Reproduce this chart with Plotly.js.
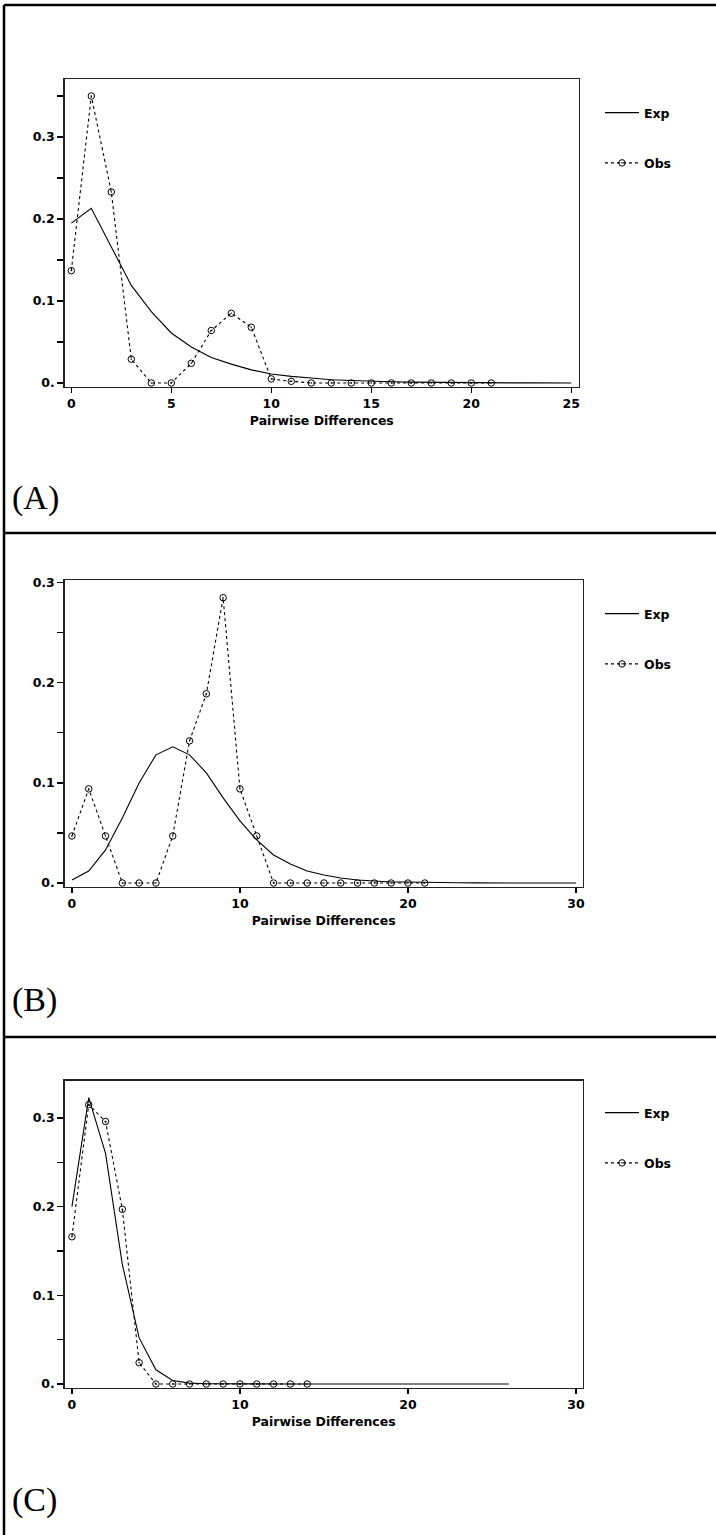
<!DOCTYPE html>
<html><head><meta charset="utf-8">
<script src="https://cdn.plot.ly/plotly-3.0.1.min.js"></script>
<style>html,body{margin:0;padding:0;background:#fff}#chart{width:716px;height:1535px}</style>
</head><body><div id="chart"></div>
<script>
// ---------- data ----------
const expXA = [0,1,2,3,4,5,6,7,8,9,10,11,12,13,14,15,16,17,18,19,20,21,22,23,24,25];
const expA  = [0.195,0.213,0.166,0.119,0.087,0.061,0.044,0.031,0.023,0.016,0.011,0.008,0.006,0.004,0.003,0.002,0.0015,0.001,0.0007,0.0005,0.0003,0.0002,0.0001,0.0001,0,0];
const obsXA = [0,1,2,3,4,5,6,7,8,9,10,11,12,13,14,15,16,17,18,19,20,21];
const obsA  = [0.137,0.350,0.233,0.029,0,0,0.024,0.064,0.085,0.068,0.005,0.002,0,0,0,0,0,0,0,0,0,0];

const expXB = [0,1,2,3,4,5,6,7,8,9,10,11,12,13,14,15,16,17,18,19,20,21,22,23,24,25,26,27,28,29,30];
const expB  = [0.003,0.012,0.033,0.065,0.100,0.128,0.136,0.128,0.110,0.085,0.062,0.043,0.028,0.019,0.012,0.008,0.005,0.003,0.002,0.001,0.001,0.0005,0.0003,0.0002,0.0001,0,0,0,0,0,0];
const obsXB = [0,1,2,3,4,5,6,7,8,9,10,11,12,13,14,15,16,17,18,19,20,21];
const obsB  = [0.047,0.094,0.047,0,0,0,0.047,0.142,0.189,0.285,0.094,0.047,0,0,0,0,0,0,0,0,0,0];

const expXC = [0,1,2,3,4,5,6,7,8,9,10,11,12,13,14,15,16,17,18,19,20,21,22,23,24,25,26];
const expC  = [0.200,0.323,0.260,0.135,0.052,0.016,0.004,0.001,0.0003,0.0001,0,0,0,0,0,0,0,0,0,0,0,0,0,0,0,0,0];
const obsXC = [0,1,2,3,4,5,6,7,8,9,10,11,12,13,14];
const obsC  = [0.166,0.315,0.296,0.197,0.024,0,0,0,0,0,0,0,0,0,0];

const yTickVals = [0,0.05,0.1,0.15,0.2,0.25,0.3,0.35];
const yTickText = ['0.','','0.1','','0.2','','0.3',''];
const xTicksA = [0,5,10,15,20,25];
const xTicksBC = [0,10,20,30];
const seriesNames = ['Exp','Obs'];
const panelLabels = ['(A)','(B)','(C)'];
const xTitle = 'Pairwise Differences';

// ---------- helpers ----------
const W = 716, H = 1535;
const px = v => v / W;
const py = v => 1 - v / H;
const FONT = {family: 'DejaVu Sans, Arial, sans-serif', size: 12.5, color: '#000', weight: 'bold'};

function expTrace(x, y, xa, ya, lg) {
  return {x: x, y: y, xaxis: xa, yaxis: ya, type: 'scatter', mode: 'lines', name: seriesNames[0],
    legend: lg, legendgroup: lg + 'e', line: {color: '#000', width: 1.1}, hoverinfo: 'x+y'};
}
function obsTrace(x, y, xa, ya, lg) {
  return {x: x, y: y, xaxis: xa, yaxis: ya, type: 'scatter', mode: 'lines+markers', name: seriesNames[1],
    legend: lg, legendgroup: lg + 'o', line: {color: '#000', width: 1.1, dash: '3px,3px'},
    marker: {symbol: 'circle-open-dot', size: 6.5, color: '#000', line: {color: '#000', width: 1}}, hoverinfo: 'x+y'};
}

const data = [
  expTrace(expXA, expA, 'x', 'y', 'legend'),
  obsTrace(obsXA, obsA, 'x', 'y', 'legend'),
  expTrace(expXB, expB, 'x2', 'y2', 'legend2'),
  obsTrace(obsXB, obsB, 'x2', 'y2', 'legend2'),
  expTrace(expXC, expC, 'x3', 'y3', 'legend3'),
  obsTrace(obsXC, obsC, 'x3', 'y3', 'legend3')
];

function xaxis(domain, range, ticks, anchor) {
  return {domain: domain, range: range, anchor: anchor, tickvals: ticks, ticktext: ticks.map(String),
    ticks: 'outside', ticklen: 5, tickwidth: 1.2, tickcolor: '#000', showline: true, mirror: true,
    linecolor: '#222', linewidth: 1.4, showgrid: false, zeroline: false, tickfont: FONT,
    title: {text: xTitle, font: FONT, standoff: 6}, fixedrange: true};
}
function yaxis(domain, range, anchor) {
  return {domain: domain, range: range, anchor: anchor, tickvals: yTickVals, ticktext: yTickText,
    ticks: 'outside', ticklen: 6, tickwidth: 1.2, tickcolor: '#000', showline: true, mirror: true,
    linecolor: '#222', linewidth: 1.4, showgrid: false, zeroline: false, tickfont: FONT, fixedrange: true};
}
function legend(topPx) {
  return {x: px(600), y: py(topPx), xanchor: 'left', yanchor: 'top', bgcolor: 'rgba(0,0,0,0)',
    borderwidth: 0, font: FONT, traceorder: 'grouped', tracegroupgap: 31, itemwidth: 34};
}

const shapes = [
  {type: 'line', xref: 'paper', yref: 'paper', x0: px(4), x1: px(4), y0: py(5), y1: py(1540), line: {color: '#000', width: 2.5}},
  {type: 'line', xref: 'paper', yref: 'paper', x0: px(4), x1: px(720), y0: py(5), y1: py(5), line: {color: '#000', width: 2.5}},
  {type: 'line', xref: 'paper', yref: 'paper', x0: px(4), x1: px(720), y0: py(533), y1: py(533), line: {color: '#000', width: 2.5}},
  {type: 'line', xref: 'paper', yref: 'paper', x0: px(4), x1: px(720), y0: py(1037), y1: py(1037), line: {color: '#000', width: 2.5}}
];

const annotations = panelLabels.map((t, i) => ({
  text: t, xref: 'paper', yref: 'paper', x: px(10), y: py([498, 1000, 1500][i]),
  xanchor: 'left', yanchor: 'middle', showarrow: false,
  font: {family: 'Liberation Serif, Times New Roman, serif', size: 34, color: '#000'}
}));

const layout = {
  width: W, height: H, margin: {l: 0, r: 0, t: 0, b: 0},
  paper_bgcolor: '#fff', plot_bgcolor: '#fff', showlegend: true,
  xaxis: xaxis([px(64.7), px(579)], [-0.33, 25.385], xTicksA, 'y'),
  yaxis: yaxis([py(387), py(79.3)], [-0.0049, 0.3704], 'x'),
  xaxis2: xaxis([px(64.7), px(582.7)], [-0.43, 30.4], xTicksBC, 'y2'),
  yaxis2: yaxis([py(887), py(580)], [-0.004, 0.3027], 'x2'),
  xaxis3: xaxis([px(64.7), px(582.7)], [-0.43, 30.4], xTicksBC, 'y3'),
  yaxis3: yaxis([py(1388), py(1080.7)], [-0.0045, 0.342], 'x3'),
  legend: legend(98), legend2: legend(599), legend3: legend(1098),
  shapes: shapes, annotations: annotations
};

Plotly.newPlot('chart', data, layout, {displayModeBar: false, staticPlot: true});
</script>
</body></html>
